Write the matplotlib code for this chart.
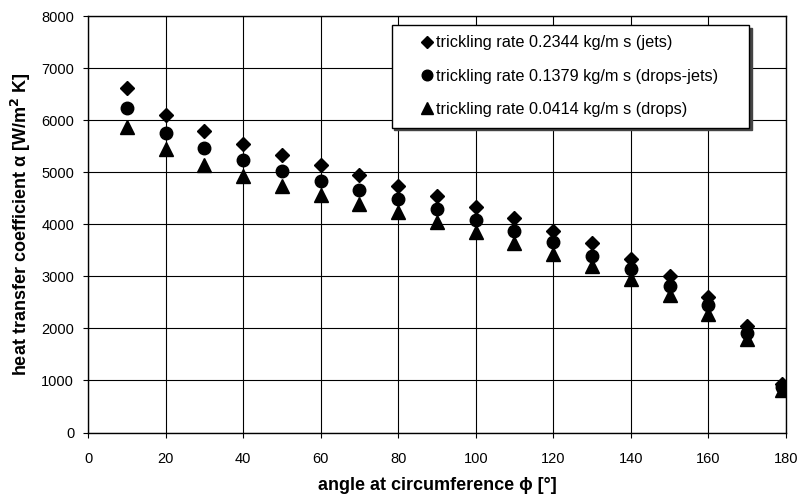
import matplotlib
matplotlib.use("Agg")
import matplotlib.pyplot as plt

plt.rcParams['font.family'] = ['Liberation Sans', 'DejaVu Sans']

angle = [10, 20, 30, 40, 50, 60, 70, 80, 90, 100, 110, 120, 130, 140, 150, 160, 170, 179]
jets = [6615, 6100, 5790, 5535, 5330, 5135, 4945, 4742, 4550, 4338, 4127, 3871, 3635, 3332, 3012, 2610, 2048, 929]
drops_jets = [6240, 5750, 5460, 5230, 5025, 4836, 4660, 4487, 4288, 4083, 3877, 3654, 3396, 3135, 2813, 2448, 1919, 877]
drops = [5877, 5440, 5138, 4927, 4735, 4562, 4395, 4231, 4050, 3858, 3646, 3429, 3198, 2942, 2640, 2275, 1788, 813]

labels = ["trickling rate 0.2344 kg/m s (jets)",
          "trickling rate 0.1379 kg/m s (drops-jets)",
          "trickling rate 0.0414 kg/m s (drops)"]

xticks = list(range(0, 181, 20))
yticks = list(range(0, 8001, 1000))

fig = plt.figure(figsize=(8.01, 5.0), dpi=100)
ax = fig.add_axes([0.110, 0.135, 0.871, 0.833])

ax.plot(angle, jets, linestyle='none', marker='D', ms=7.4, color='black', label=labels[0])
ax.plot(angle, drops_jets, linestyle='none', marker='o', ms=9, color='black', label=labels[1])
ax.plot(angle, drops, linestyle='none', marker='^', ms=9.5, color='black', label=labels[2])

ax.set_xlim(0, 180)
ax.set_ylim(0, 8000)
ax.set_xticks(xticks)
ax.set_yticks(yticks)
ax.grid(True, color='black', linewidth=0.8)
ax.set_axisbelow(True)
for s in ax.spines.values():
    s.set_color('black')
    s.set_linewidth(1.0)
ax.tick_params(direction='out', length=3.5, width=0.8, labelsize=10.5, colors='black')
ax.tick_params(axis='x', pad=10.5)
ax.tick_params(axis='y', pad=6.5)

ax.set_xlabel("angle at circumference ϕ [°]", fontsize=13, fontweight='bold', labelpad=8)
ax.set_ylabel("heat transfer coefficient α [W/m$^{\\mathbf{2}}$ K]", fontsize=13, fontweight='bold', labelpad=6)

leg = ax.legend(loc='upper left', bbox_to_anchor=(0.435, 0.979, 0.512, 0.0), mode='expand',
                frameon=True, fancybox=False,
                shadow={'color': '#444444', 'alpha': 1.0}, fontsize=11.7, markerscale=0.85,
                handlelength=3.0, handletextpad=-0.89, borderpad=0.65, labelspacing=1.13,
                borderaxespad=0)
leg.get_frame().set_edgecolor('black')
leg.get_frame().set_linewidth(1.0)
leg.get_frame().set_alpha(1.0)

fig.savefig("out.png", dpi=100)
